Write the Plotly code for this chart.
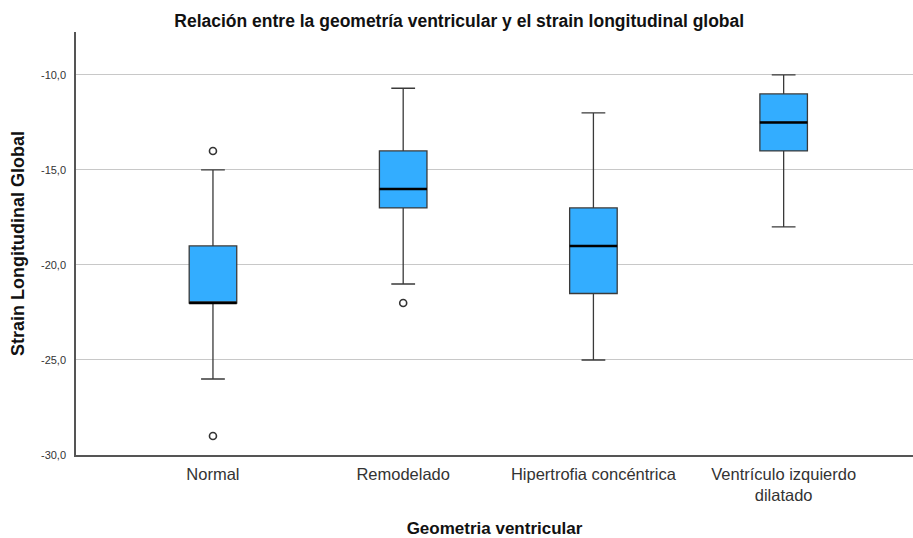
import plotly.graph_objects as go

# Box summaries of global longitudinal strain by ventricular geometry
categories = ["Normal", "Remodelado", "Hipertrofia concéntrica", "Ventrículo izquierdo<br>dilatado"]
lower_whisker = [-26.0, -21.0, -25.0, -18.0]
q1 = [-22.0, -17.0, -21.5, -14.0]
median = [-22.0, -16.0, -19.0, -12.5]
q3 = [-19.0, -14.0, -17.0, -11.0]
upper_whisker = [-15.0, -10.7, -12.0, -10.0]
outlier_group = [0, 0, 1]
outlier_value = [-14.0, -29.0, -22.0]

y_ticks = [-30, -25, -20, -15, -10]
y_tick_labels = ["-30,0", "-25,0", "-20,0", "-15,0", "-10,0"]

positions = list(range(len(categories)))
box_width = 0.25
font_family = "Liberation Sans, Arial, sans-serif"

fig = go.Figure()

fig.add_trace(go.Box(
    x=positions,
    q1=q1, median=median, q3=q3,
    lowerfence=lower_whisker, upperfence=upper_whisker,
    width=box_width,
    whiskerwidth=0.5,
    fillcolor="#33adff",
    line=dict(color="#3a3a3a", width=1.3),
    boxpoints=False,
    hoverinfo="skip",
    showlegend=False,
))

# Heavier median bars drawn over each box
for i, m in zip(positions, median):
    fig.add_trace(go.Scatter(
        x=[i - box_width / 2, i + box_width / 2], y=[m, m],
        mode="lines", line=dict(color="black", width=2.4),
        hoverinfo="skip", showlegend=False,
    ))

# Outliers as hollow circles
fig.add_trace(go.Scatter(
    x=outlier_group, y=outlier_value, mode="markers",
    marker=dict(symbol="circle-open", size=7, color="#333333", line=dict(width=1.6)),
    hoverinfo="skip", showlegend=False,
))

fig.update_layout(
    width=913, height=538,
    margin=dict(l=76, r=0, t=32, b=83),
    paper_bgcolor="white", plot_bgcolor="white",
    font=dict(family=font_family, color="#222222"),
    title=dict(
        text="<b>Relación entre la geometría ventricular y el strain longitudinal global</b>",
        x=0.503, xanchor="center", y=0.962, yanchor="middle",
        font=dict(size=17.5, color="#111111"),
    ),
    xaxis=dict(
        range=[-0.72, 3.68],
        tickmode="array", tickvals=positions, ticktext=categories,
        tickfont=dict(size=16.5, color="#333333"),
        ticklabelstandoff=3,
        showgrid=False, zeroline=False,
        showline=True, linecolor="#555555", linewidth=1.5,
        ticks="",
        title=dict(text="<b>Geometria ventricular</b>", font=dict(size=17, color="#111111"), standoff=20),
    ),
    yaxis=dict(
        range=[-30, -7.74],
        tickmode="array", tickvals=y_ticks, ticktext=y_tick_labels,
        tickfont=dict(size=11, color="#333333"),
        ticklabelstandoff=6,
        showgrid=True, gridcolor="#c8c8c8", gridwidth=1,
        zeroline=False,
        showline=True, linecolor="#555555", linewidth=1.5,
        ticks="",
        title=dict(text="<b>Strain Longitudinal Global</b>", font=dict(size=18, color="#111111"), standoff=12),
    ),
)

fig.write_html("out.html")
